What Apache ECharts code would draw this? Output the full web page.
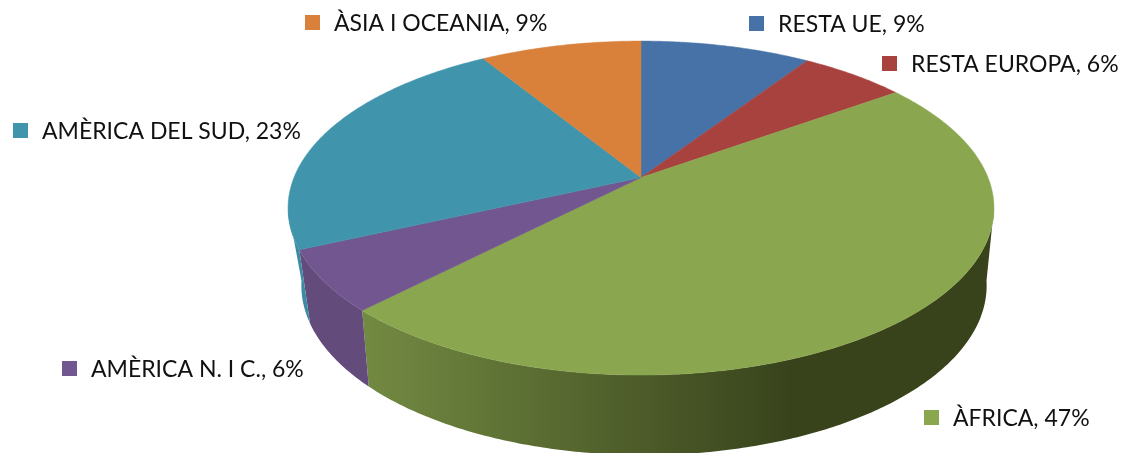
<!DOCTYPE html>
<html><head><meta charset="utf-8">
<style>html,body{margin:0;padding:0;background:#fff}#c{width:1124px;height:453px}</style>
<script src="https://cdn.jsdelivr.net/npm/echarts@6/dist/echarts.min.js"></script>
</head><body><div id="c"></div>
<script>
// Data
const categories = ['RESTA UE','RESTA EUROPA','ÀFRICA','AMÈRICA N. I C.','AMÈRICA DEL SUD','ÀSIA I OCEANIA'];
const shares = [9.3,5.8,47.2,5.9,23,8.8];
// Styles and layout
const topColors = ['#4672a8','#a8423f','#8aa64f','#71568f','#4095ad','#d9803a'];
const wallColors = [
  ['#3a5f8c','#3a5f8c'],['#8c3735','#8c3735'],['#738a42','#38431c'],
  ['#634c7c','#5c4774'],['#3a8ba3','#38869d'],['#b56b30','#b56b30']
];
const legendPos = [[749,16],[882,56],[924,410],[62,361],[13,123],[305,15]];
const textGap = 29, swatch = 15;
const view = {cx:641, cy:177.5, a:347, b:161.4, k:0.183};
const floor = {cx:644, cy:250, a:335, b:162, k:0.21};

const total = shares.reduce((s,v)=>s+v,0);
function project(d, t){
  const w = 1 + d.k*Math.cos(t);
  return [d.cx + d.a*Math.sin(t)/w, d.cy - d.b*Math.cos(t)/w];
}
function range(i){
  let s = 0;
  for(let j=0;j<i;j++) s += shares[j];
  return [s/total*2*Math.PI, (s+shares[i])/total*2*Math.PI];
}
function arc(d, t0, t1){
  const n = Math.max(2, Math.ceil(Math.abs(t1-t0)/0.01)), out = [];
  for(let i=0;i<=n;i++) out.push(project(d, t0+(t1-t0)*i/n));
  return out;
}
// Only the part of the rim between the two silhouette angles faces the viewer.
const rimStart = Math.acos(-view.k), rimEnd = 2*Math.PI - rimStart;
const rows = shares.map((v,i)=>[i,v]);
const chart = echarts.init(document.getElementById('c'),null,{renderer:'canvas'});
chart.setOption({
  animation:false,
  backgroundColor:'#fff',
  series:[
    {type:'custom',coordinateSystem:'none',silent:true,z:1,data:rows,
     renderItem(p,api){
       const i = api.value(0), r = range(i);
       const t0 = Math.max(r[0],rimStart), t1 = Math.min(r[1],rimEnd);
       if(t1 <= t0) return {type:'group',children:[]};
       const pts = arc(view,t0,t1).concat(arc(floor,t1,t0));
       return {type:'polygon',shape:{points:pts},style:{
         fill:{type:'linear',x:361,y:0,x2:790,y2:0,global:true,colorStops:[
           {offset:0,color:wallColors[i][0]},{offset:1,color:wallColors[i][1]}]}}};
     }},
    {type:'custom',coordinateSystem:'none',silent:true,z:2,data:rows,
     renderItem(p,api){
       const i = api.value(0), [t0,t1] = range(i);
       const pts = [[view.cx,view.cy]].concat(arc(view,t0,t1));
       return {type:'polygon',shape:{points:pts},style:{fill:topColors[i],stroke:topColors[i],lineWidth:0.5}};
     }},
    {type:'custom',coordinateSystem:'none',silent:true,z:3,data:rows,
     renderItem(p,api){
       const i = api.value(0), [x,y] = legendPos[i];
       return {type:'group',children:[
         {type:'rect',shape:{x:x,y:y,width:swatch,height:swatch},style:{fill:topColors[i]}},
         {type:'text',x:x+textGap,y:y+swatch/2+1,style:{
           text:categories[i]+', '+Math.round(api.value(1))+'%',
           font:'23px Lato',fill:'#111',textAlign:'left',textVerticalAlign:'middle'}}
       ]};
     }}
  ]
});
</script></body></html>
